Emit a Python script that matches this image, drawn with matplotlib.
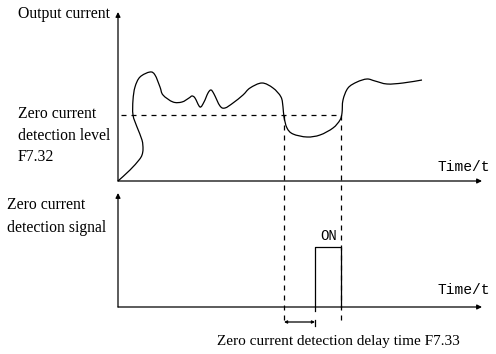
import matplotlib
matplotlib.use('Agg')
import matplotlib.pyplot as plt
from matplotlib.path import Path
from matplotlib.patches import PathPatch

# ---- 数据：输出电流曲线（t, 电流），以坐标原点为基准 ----
curve_t = [0, 12, 21, 24, 25, 24, 19, 15, 15, 17, 22, 32, 37, 42, 45, 55, 64, 71, 74, 77,
           82, 86, 90, 93, 96, 102, 107, 115, 125, 132, 144, 155, 163, 165, 166,
           169, 175, 189, 202, 215, 222, 224, 225, 230, 239, 249, 257, 269, 285, 304]
curve_i = [0, 11, 21, 26, 32, 41, 54, 66, 81, 94, 104, 109, 106, 94, 86, 79, 79, 83, 85, 83,
           74, 79, 88, 91, 87, 75, 73, 78, 86, 93, 98, 93, 84, 74, 64,
           53, 47, 44, 46, 53, 61, 68, 81, 93, 99, 102, 100, 97, 98, 101]

level = 66            # 零电流检测水平 F7.32
t_cross_down = 166    # 电流降到水平以下
t_cross_up = 223      # 电流回到水平以上
delay = 31            # 检测延迟时间 F7.33
pulse_height = 60     # ON 信号高度

# ---- 版面（像素） ----
W, H = 496, 354
X0 = 118              # 两个坐标系的原点 x
Y_TOP = 181           # 上图原点 y
Y_BOT = 307           # 下图原点 y
X_END = 482

fig = plt.figure(figsize=(W / 100, H / 100), dpi=100)
ax = fig.add_axes([0, 0, 1, 1])
ax.set_xlim(0, W)
ax.set_ylim(H, 0)
ax.axis('off')

lw = 0.9
serif = 'Liberation Serif'
mono = 'Liberation Mono'
dash = (0, (4, 4))
arrow = dict(arrowstyle='-|>', mutation_scale=7, lw=lw, color='k', shrinkA=0, shrinkB=0)

# 坐标轴
for y0, ytop in [(Y_TOP, 12), (Y_BOT, 193)]:
    ax.annotate('', xy=(X0, ytop), xytext=(X0, y0), arrowprops=arrow)
    ax.annotate('', xy=(X_END, y0), xytext=(X0, y0), arrowprops=arrow)

# 电流曲线：用贝塞尔曲线平滑穿过读取的点
pts = [(X0 + t, Y_TOP - i) for t, i in zip(curve_t, curve_i)]
verts = [pts[0]]
codes = [Path.MOVETO]
for k in range(len(pts) - 1):
    p0 = pts[max(k - 1, 0)]
    p1 = pts[k]
    p2 = pts[k + 1]
    p3 = pts[min(k + 2, len(pts) - 1)]
    c1 = (p1[0] + (p2[0] - p0[0]) / 6, p1[1] + (p2[1] - p0[1]) / 6)
    c2 = (p2[0] - (p3[0] - p1[0]) / 6, p2[1] - (p3[1] - p1[1]) / 6)
    verts += [c1, c2, p2]
    codes += [Path.CURVE4] * 3
ax.add_patch(PathPatch(Path(verts, codes), fill=False, lw=lw, edgecolor='k'))

# 检测水平虚线
ax.plot([X0 + 3, X0 + t_cross_up], [Y_TOP - level] * 2, color='k', lw=lw, ls=dash)

# 竖直虚线
for tc in [t_cross_down, t_cross_up]:
    ax.plot([X0 + tc] * 2, [Y_TOP - level, Y_BOT + 18], color='k', lw=lw, ls=dash)

# ON 脉冲
t_on = t_cross_down + delay
ax.plot([X0 + t_on, X0 + t_on, X0 + t_cross_up, X0 + t_cross_up],
        [Y_BOT + 4, Y_BOT - pulse_height, Y_BOT - pulse_height, Y_BOT],
        color='k', lw=lw)
ax.text(X0 + (t_on + t_cross_up) / 2 + 1, Y_BOT - pulse_height - 4, 'ON',
        family=mono, fontsize=10, ha='center', va='bottom')

# 延迟时间标注
ax.annotate('', xy=(X0 + t_cross_down, Y_BOT + 15), xytext=(X0 + t_on, Y_BOT + 15),
            arrowprops=dict(arrowstyle='<|-|>', mutation_scale=4, lw=lw, color='k',
                            shrinkA=0, shrinkB=0))
ax.plot([X0 + t_on] * 2, [Y_BOT + 13, Y_BOT + 19], color='k', lw=lw)

# 文字
fs = 11.3
ax.text(18, 14, 'Output current', family=serif, fontsize=fs, va='center')
ax.text(18, 114, 'Zero current', family=serif, fontsize=fs, va='center')
ax.text(18, 136, 'detection level', family=serif, fontsize=fs, va='center')
ax.text(18, 157, 'F7.32', family=serif, fontsize=fs, va='center')
ax.text(7, 205, 'Zero current', family=serif, fontsize=fs, va='center')
ax.text(7, 228, 'detection signal', family=serif, fontsize=fs, va='center')
ax.text(338, 342, 'Zero current detection delay time F7.33', family=serif,
        fontsize=11, ha='center', va='center')
ax.text(490, 167, 'Time/t', family=mono, fontsize=10.5, ha='right', va='center')
ax.text(490, 290, 'Time/t', family=mono, fontsize=10.5, ha='right', va='center')

fig.savefig('out.png', dpi=100)
